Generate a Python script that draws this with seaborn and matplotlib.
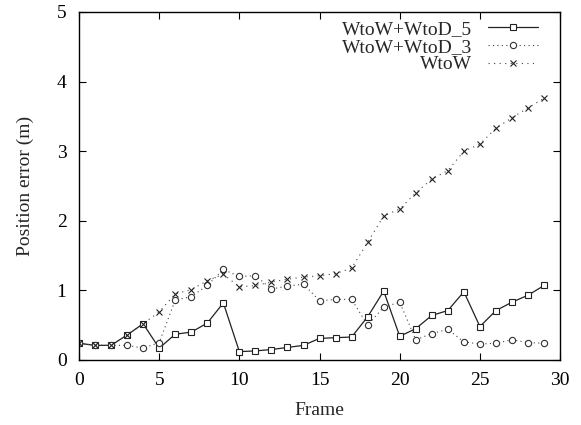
import pandas as pd
import matplotlib
matplotlib.use('Agg')
import matplotlib.pyplot as plt
import seaborn as sns

# values (position error in m per frame)
frames = list(range(30))
wtod5 = [0.24, 0.21, 0.21, 0.36, 0.52, 0.17, 0.37, 0.40, 0.53, 0.82,
         0.12, 0.13, 0.15, 0.18, 0.21, 0.31, 0.32, 0.33, 0.62, 0.99,
         0.34, 0.45, 0.64, 0.71, 0.98, 0.48, 0.71, 0.83, 0.93, 1.07]
wtod3 = [0.24, 0.21, 0.21, 0.21, 0.17, 0.25, 0.86, 0.91, 1.07, 1.30,
         1.20, 1.21, 1.02, 1.06, 1.09, 0.85, 0.87, 0.87, 0.50, 0.76,
         0.83, 0.29, 0.38, 0.44, 0.26, 0.23, 0.24, 0.29, 0.25, 0.24]
wtow = [0.24, 0.21, 0.21, 0.36, 0.52, 0.69, 0.95, 1.01, 1.14, 1.23,
        1.05, 1.07, 1.12, 1.16, 1.19, 1.21, 1.24, 1.32, 1.69, 2.07,
        2.17, 2.40, 2.60, 2.72, 3.00, 3.10, 3.33, 3.48, 3.62, 3.76]

df = pd.DataFrame({'Frame': frames, 'WtoW+WtoD_5': wtod5,
                   'WtoW+WtoD_3': wtod3, 'WtoW': wtow})

sns.set_style('ticks')
plt.rcParams['font.family'] = ['Liberation Serif', 'DejaVu Serif']
plt.rcParams['font.size'] = 13

fig = plt.figure(figsize=(5.81, 4.25), dpi=100)
ax = fig.add_axes([0.136, 0.153, 0.828, 0.819])

sns.lineplot(data=df, x='Frame', y='WtoW+WtoD_5', ax=ax, label='WtoW+WtoD_5',
             color='#222222', linewidth=0.9, marker='s', markersize=5,
             markerfacecolor='white', markeredgecolor='#222222', markeredgewidth=0.8)
sns.lineplot(data=df, x='Frame', y='WtoW+WtoD_3', ax=ax, label='WtoW+WtoD_3',
             color='#444444', linewidth=0.8, linestyle=(0, (1, 3)), marker='o',
             markersize=4.5, markerfacecolor='white', markeredgecolor='#333333',
             markeredgewidth=0.8)
sns.lineplot(data=df, x='Frame', y='WtoW', ax=ax, label='WtoW',
             color='#444444', linewidth=0.8, linestyle=(0, (1, 4)), marker='x',
             markersize=4, markeredgecolor='#222222', markeredgewidth=0.8)

ax.set_xlim(0, 30)
ax.set_ylim(0, 5)
ax.set_xticks(range(0, 31, 5))
ax.set_yticks(range(0, 6))
ax.tick_params(direction='in', length=5, width=0.8, top=True, right=True,
               labelsize=14, colors='black', pad=9)
for s in ax.spines.values():
    s.set_linewidth(1.0)
    s.set_color('black')
ax.set_xlabel('Frame', fontsize=14, labelpad=9)
ax.set_ylabel('Position error (m)', fontsize=14, labelpad=16)

leg = ax.legend(loc='upper right', bbox_to_anchor=(0.955, 0.975), frameon=False,
                markerfirst=False, fontsize=14, handlelength=2.6,
                handletextpad=0.8, labelspacing=0.0, borderpad=0,
                borderaxespad=0)

plt.savefig('out.png', dpi=100)
